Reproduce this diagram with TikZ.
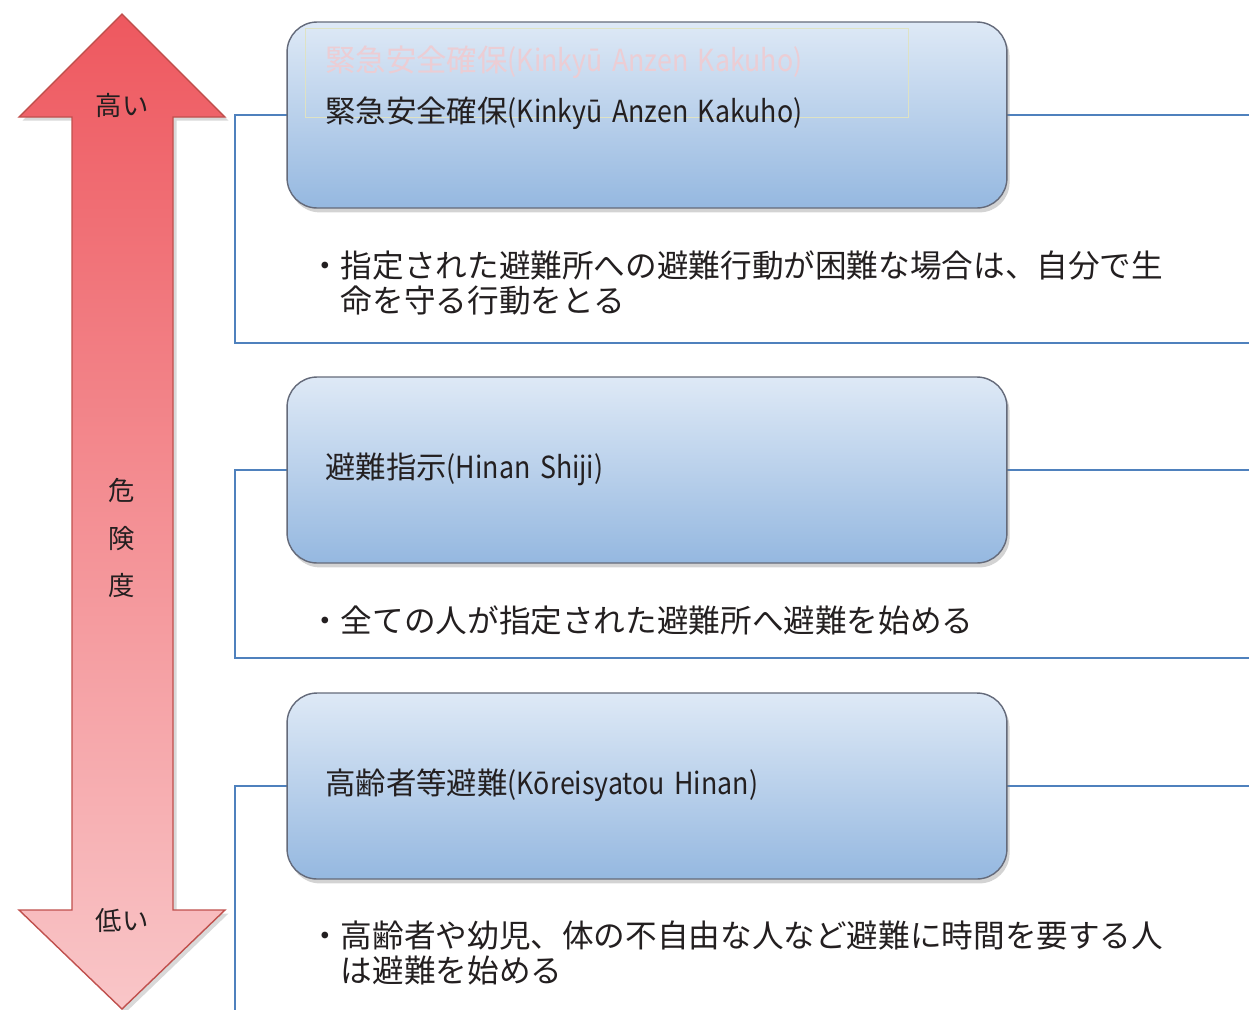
\documentclass[tikz,border=0pt]{standalone}
\usepackage{fontspec}
\newfontfamily\jpfont{Noto Sans CJK JP}
\newfontfamily\romajifont[FakeStretch=0.88, WordSpace=1.6]{Noto Sans CJK JP}
\newcommand{\romaji}[1]{{\romajifont #1}}
\usetikzlibrary{shadows}
\definecolor{arrowtop}{RGB}{238,88,95}
\definecolor{arrowmid}{RGB}{241,124,129}
\definecolor{arrowbot}{RGB}{249,198,200}
\definecolor{arrowline}{RGB}{192,80,77}
\definecolor{boxtop}{RGB}{222,233,246}
\definecolor{boxbot}{RGB}{149,184,224}
\definecolor{boxline}{RGB}{100,106,122}
\definecolor{frameblue}{RGB}{79,129,189}
\definecolor{ghostpink}{RGB}{236,205,212}
\definecolor{ghostline}{RGB}{222,226,196}
\definecolor{ink}{RGB}{35,31,32}
\tikzset{
 levelbox/.style={draw=boxline, line width=0.8pt, rounded corners=0.6cm, top color=boxtop, bottom color=boxbot,
   minimum width=14.4cm, minimum height=3.72cm, drop shadow={shadow xshift=1.5pt, shadow yshift=-2.5pt, opacity=0.35}},
 frame/.style={draw=frameblue, line width=1.1pt},
 heading/.style={anchor=west, inner sep=0pt, text=ink, font=\jpfont\fontsize{17.3pt}{20pt}\selectfont},
 item/.style={heading, align=left, font=\jpfont\fontsize{18pt}{20pt}\selectfont},
 levellabel/.style={inner sep=0pt, text=ink, align=center, font=\jpfont\fontsize{15pt}{18pt}\selectfont}
}
\begin{document}
\begin{tikzpicture}[x=0.02cm, y=-0.02cm]
 \useasboundingbox (0,0) rectangle (1249,1009);
 % danger scale arrow
 \path[draw=arrowline, line width=0.8pt, top color=arrowtop, middle color=arrowmid, bottom color=arrowbot,
   drop shadow={shadow xshift=2pt, shadow yshift=-2pt, opacity=0.3}]
   (122,14) -- (225,117) -- (173,117) -- (173,910) -- (225,910) -- (122,1009)
   -- (19,910) -- (72,910) -- (72,117) -- (19,117) -- cycle;
 \node[levellabel] (high) at (122,105) {高い};
 \node[levellabel] (risk) at (122,538) {危\\[0.32cm]険\\[0.32cm]度};
 \node[levellabel] (low) at (122,920) {低い};
 % frames behind the boxes
 \draw[frame] (1260,115) -- (235,115) -- (235,343) -- (1260,343);
 \draw[frame] (1260,470) -- (235,470) -- (235,658) -- (1260,658);
 \draw[frame] (1260,786) -- (235,786) -- (235,1020);
 % levels
 \node[levelbox] (box1) at (647,115) {};
 \node[levelbox] (box2) at (647,470) {};
 \node[levelbox] (box3) at (647,786) {};
 \draw[ghostline, line width=0.4pt] (305,28) rectangle (908,117);
 \node[heading, text=ghostpink] (ghost) at (325,62) {緊急安全確保\romaji{(Kinkyū Anzen Kakuho)}};
 \node[heading] (title1) at (325,113) {緊急安全確保\romaji{(Kinkyū Anzen Kakuho)}};
 \node[heading] (title2) at (325,469) {避難指示\romaji{(Hinan Shiji)}};
 \node[heading] (title3) at (325,785) {高齢者等避難\romaji{(Kōreisyatou Hinan)}};
 \node[item] (text1) at (309,283) {・指定された避難所への避難行動が困難な場合は、自分で生\\\hspace*{1em}命を守る行動をとる};
 \node[item] (text2) at (309,620) {・全ての人が指定された避難所へ避難を始める};
 \node[item] (text3) at (309,953) {・高齢者や幼児、体の不自由な人など避難に時間を要する人\\\hspace*{1em}は避難を始める};
\end{tikzpicture}
\end{document}
